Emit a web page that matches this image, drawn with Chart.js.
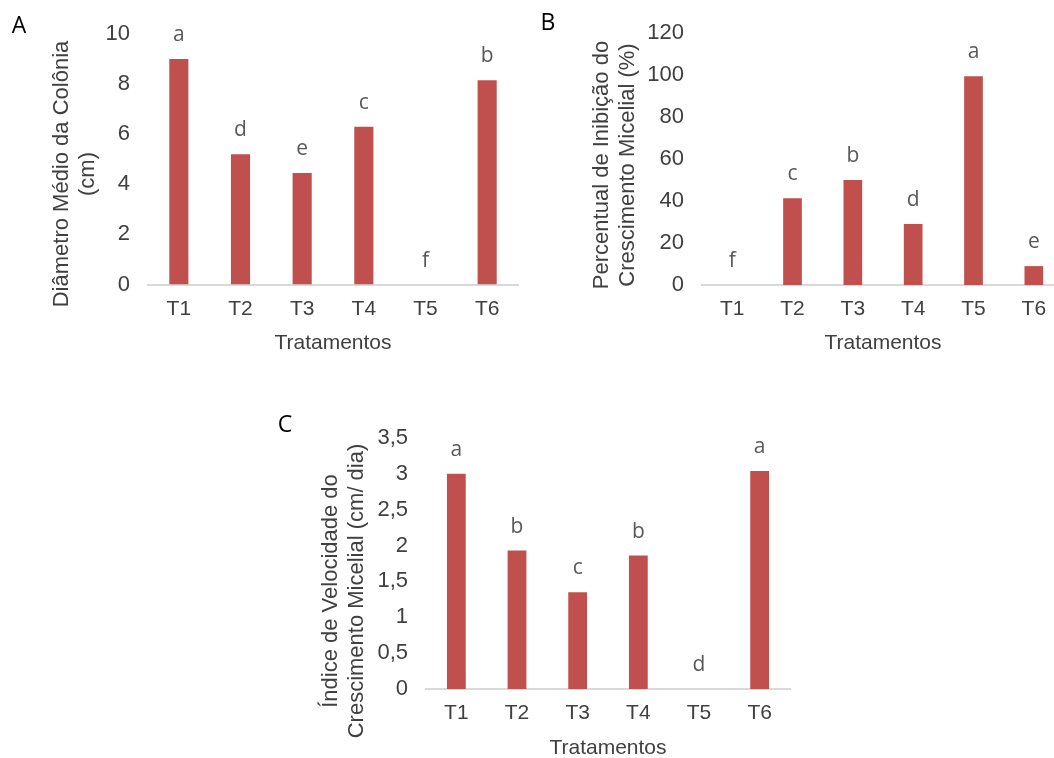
<!DOCTYPE html>
<html>
<head>
<meta charset="utf-8">
<script src="https://cdn.jsdelivr.net/npm/chart.js@4/dist/chart.umd.min.js"></script>
<style>
  html, body { margin: 0; padding: 0; background: #fff; overflow: hidden; }
  body { width: 1054px; height: 758px; position: relative; }
  .panel { position: absolute; }
</style>
</head>
<body>
<div class="panel" style="left:0;top:0;width:530px;height:390px"><canvas id="chartA"></canvas></div>
<div class="panel" style="left:530px;top:0;width:540px;height:390px"><canvas id="chartB"></canvas></div>
<div class="panel" style="left:270px;top:400px;width:530px;height:370px"><canvas id="chartC"></canvas></div>
<script>
/* three bar panels: colony diameter, inhibition %, growth speed index */

const TREATMENTS = ['T1', 'T2', 'T3', 'T4', 'T5', 'T6'];

const DIAMETER = [9.0, 5.2, 4.45, 6.3, 0, 8.15];
const DIAMETER_SIG = ['a', 'd', 'e', 'c', 'f', 'b'];

const INHIBITION = [0, 41.3, 50, 29, 99.4, 9];
const INHIBITION_SIG = ['f', 'c', 'b', 'd', 'a', 'e'];

const SPEED = [3.0, 1.93, 1.35, 1.86, 0, 3.04];
const SPEED_SIG = ['a', 'b', 'c', 'b', 'd', 'a'];

const BAR_COLOR = '#C0504D';
const AXIS_COLOR = '#D9D9D9';
const TEXT_COLOR = '#404040';
const SIG_COLOR = '#595959';
const SANS = '"Liberation Sans", Arial, sans-serif';

// ─── draws panel letter, rotated y title and the significance letters ───
const panelText = {
  id: 'panelText',
  afterDatasetsDraw(chart, args, opts) {
    const ctx = chart.ctx;
    ctx.save();

    ctx.fillStyle = '#000';
    ctx.font = '23px "Open Sans"';
    ctx.textAlign = 'center';
    ctx.textBaseline = 'middle';
    ctx.fillText(opts.letter, opts.letterX, opts.letterY);

    ctx.save();
    ctx.fillStyle = TEXT_COLOR;
    ctx.font = '22px ' + SANS;
    ctx.translate(opts.titleX, opts.titleY);
    ctx.rotate(-Math.PI / 2);
    opts.yTitle.forEach((line, i) => ctx.fillText(line, 0, i * opts.lineGap));
    ctx.restore();

    ctx.fillStyle = SIG_COLOR;
    ctx.font = '21px "Open Sans"';
    ctx.textBaseline = 'alphabetic';
    const meta = chart.getDatasetMeta(0);
    meta.data.forEach((bar, i) => {
      ctx.fillText(opts.sig[i], bar.x, bar.y - 18);
    });
    ctx.restore();
  }
};

function makeChart(id, values, cfg) {
  const ctx = document.getElementById(id).getContext('2d');
  return new Chart(ctx, {
    type: 'bar',
    data: {
      labels: TREATMENTS,
      datasets: [{
        data: values,
        backgroundColor: BAR_COLOR,
        borderWidth: 0,
        barPercentage: 0.31,
        categoryPercentage: 1
      }]
    },
    options: {
      responsive: true,
      maintainAspectRatio: false,
      animation: false,
      layout: { padding: cfg.padding },
      plugins: {
        legend: { display: false },
        tooltip: { enabled: false },
        panelText: cfg.text
      },
      scales: {
        x: {
          grid: { display: false, drawTicks: false },
          border: { display: true, color: AXIS_COLOR, width: 2 },
          ticks: { color: TEXT_COLOR, font: { family: SANS, size: 21 }, padding: 12 },
          title: {
            display: true,
            text: 'Tratamentos',
            color: TEXT_COLOR,
            font: { family: SANS, size: 21 },
            padding: { top: 0, bottom: cfg.xTitlePad }
          },
          afterFit: s => { s.height = cfg.xHeight; }
        },
        y: {
          min: 0,
          max: cfg.max,
          grid: { display: false, drawTicks: false },
          border: { display: false },
          ticks: {
            stepSize: cfg.step,
            color: TEXT_COLOR,
            font: { family: SANS, size: 22 },
            padding: 18,
            callback: v => String(v).replace('.', ',')
          },
          afterFit: s => { s.width = cfg.yWidth; }
        }
      }
    },
    plugins: [panelText]
  });
}

const charts = {};

charts.a = makeChart('chartA', DIAMETER, {
  max: 10, step: 2,
  padding: { left: 0, right: 12, top: 34, bottom: 0 },
  yWidth: 148, xHeight: 105.5, xTitlePad: 34,
  text: {
    letter: 'A', letterX: 19, letterY: 26,
    yTitle: ['Diâmetro Médio da Colônia', '(cm)'],
    titleX: 62, titleY: 174, lineGap: 26,
    sig: DIAMETER_SIG
  }
});

charts.b = makeChart('chartB', INHIBITION, {
  max: 120, step: 20,
  padding: { left: 0, right: 6, top: 33, bottom: 0 },
  yWidth: 172, xHeight: 105, xTitlePad: 34,
  text: {
    letter: 'B', letterX: 18, letterY: 23,
    yTitle: ['Percentual de Inibição do', 'Crescimento Micelial (%)'],
    titleX: 72, titleY: 165, lineGap: 26,
    sig: INHIBITION_SIG
  }
});

charts.c = makeChart('chartC', SPEED, {
  max: 3.5, step: 0.5,
  padding: { left: 0, right: 10, top: 38, bottom: 0 },
  yWidth: 156, xHeight: 81, xTitlePad: 9,
  text: {
    letter: 'C', letterX: 15, letterY: 25,
    yTitle: ['Índice de Velocidade do', 'Crescimento Micelial (cm/ dia)'],
    titleX: 61, titleY: 191, lineGap: 26,
    sig: SPEED_SIG
  }
});
</script>
</body>
</html>
